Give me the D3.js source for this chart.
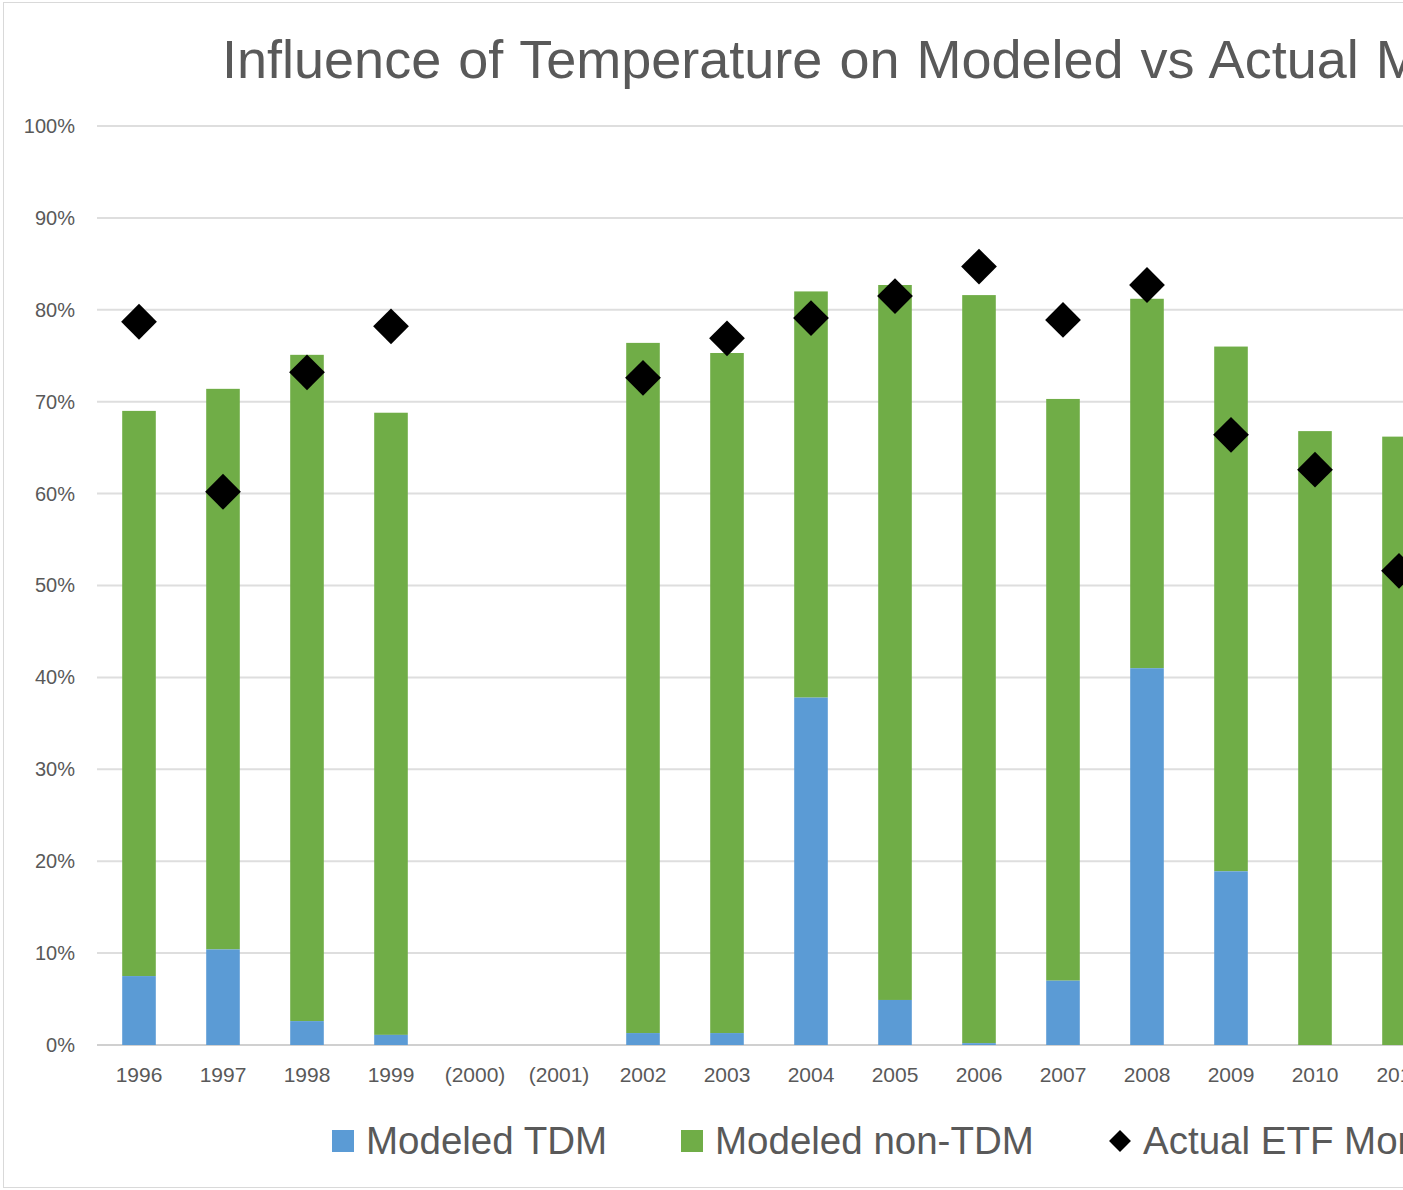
<!DOCTYPE html>
<html>
<head>
<meta charset="utf-8">
<script src="https://cdn.jsdelivr.net/npm/d3@7"></script>
<style>
  body { margin: 0; background: #fff; overflow: hidden; }
  svg { display: block; font-family: "Liberation Sans", "Open Sans", sans-serif; }
</style>
</head>
<body>
<div id="chart"></div>
<script>
// chart values (percent)
const years = ["1996", "1997", "1998", "1999", "(2000)", "(2001)", "2002", "2003",
  "2004", "2005", "2006", "2007", "2008", "2009", "2010", "2011"];
const modeledTDM = [7.5, 10.4, 2.6, 1.1, null, null, 1.3, 1.3, 37.8, 4.9, 0.2, 7.0, 41.0, 18.9, 0, 0];
const modeledNonTDM = [61.5, 61.0, 72.5, 67.7, null, null, 75.1, 74.0, 44.2, 77.8, 81.4, 63.3, 40.2, 57.1, 66.8, 66.2];
const actualETF = [78.7, 60.2, 73.2, 78.2, null, null, 72.6, 76.9, 79.1, 81.5, 84.7, 78.9, 82.7, 66.4, 62.6, 51.6];
const yTicks = [0, 10, 20, 30, 40, 50, 60, 70, 80, 90, 100];

const width = 1403, height = 1190;
const svg = d3.select("#chart").append("svg")
  .attr("width", width)
  .attr("height", height);

// frame of the chart area
svg.append("rect")
  .attr("x", 3.5).attr("y", 2.5)
  .attr("width", width + 10).attr("height", 1185)
  .attr("fill", "none").attr("stroke", "#d9d9d9");

const x = d3.scaleBand().domain(years).range([97, 97 + 84 * years.length]).paddingInner(0.6).paddingOuter(0.3);
const y = d3.scaleLinear().domain([0, 100]).range([1045, 126]);

// gridlines
svg.append("g")
  .selectAll("line")
  .data(yTicks)
  .enter()
  .append("line")
  .attr("x1", 97).attr("x2", width)
  .attr("y1", d => y(d)).attr("y2", d => y(d))
  .attr("stroke", (d) => d === 0 ? "#d0d0d0" : "#dedede")
  .attr("stroke-width", 2);

// y axis labels
const yAxis = d3.axisLeft(y).tickValues(yTicks).tickFormat(d => d + "%").tickSize(0).tickPadding(22);
const gy = svg.append("g").attr("transform", "translate(97,0)").call(yAxis);
gy.select(".domain").remove();
gy.selectAll("text").attr("font-size", 20).attr("fill", "#595959").attr("font-family", "Liberation Sans, sans-serif");

// x axis labels
const xAxis = d3.axisBottom(x).tickSize(0).tickPadding(22);
const gx = svg.append("g").attr("transform", "translate(0,1045)").call(xAxis);
gx.select(".domain").remove();
gx.selectAll("text").attr("font-size", 21).attr("fill", "#595959").attr("font-family", "Liberation Sans, sans-serif");

// stacked bars
const rows = years.map((yr, i) => ({ year: yr, tdm: modeledTDM[i], non: modeledNonTDM[i], etf: actualETF[i] }))
  .filter(d => d.tdm !== null);

svg.append("g").selectAll("rect")
  .data(rows).enter().append("rect")
  .attr("x", d => x(d.year))
  .attr("width", x.bandwidth())
  .attr("y", d => y(d.tdm + d.non))
  .attr("height", d => y(d.tdm) - y(d.tdm + d.non))
  .attr("fill", "#70ad47");

svg.append("g").selectAll("rect")
  .data(rows).enter().append("rect")
  .attr("x", d => x(d.year))
  .attr("width", x.bandwidth())
  .attr("y", d => y(d.tdm))
  .attr("height", d => y(0) - y(d.tdm))
  .attr("fill", "#5b9bd5");

// diamonds for actual values
const diamond = d3.symbol().type(d3.symbolSquare).size(640);
svg.append("g").selectAll("path")
  .data(rows).enter().append("path")
  .attr("d", diamond)
  .attr("transform", d => `translate(${x(d.year) + x.bandwidth() / 2},${y(d.etf)}) rotate(45)`)
  .attr("fill", "#000");

// title
svg.append("text")
  .attr("x", 222).attr("y", 78)
  .attr("font-size", 54)
  .attr("fill", "#595959")
  .attr("word-spacing", 2)
  .text("Influence of Temperature on Modeled vs Actual Monthly ETF");

// legend
const legend = [
  { label: "Modeled TDM", color: "#5b9bd5", x: 332, shape: "rect" },
  { label: "Modeled non-TDM", color: "#70ad47", x: 681, shape: "rect" },
  { label: "Actual ETF Monthly", color: "#000", x: 1109, shape: "diamond" }
];
const lg = svg.append("g").selectAll("g").data(legend).enter().append("g")
  .attr("transform", d => `translate(${d.x},1141)`);
lg.filter(d => d.shape === "rect").append("rect")
  .attr("x", 0).attr("y", -11).attr("width", 22).attr("height", 22)
  .attr("fill", d => d.color);
lg.filter(d => d.shape === "diamond").append("path")
  .attr("d", d3.symbol().type(d3.symbolSquare).size(240))
  .attr("transform", "translate(11,0) rotate(45)")
  .attr("fill", "#000");
lg.append("text")
  .attr("x", 34).attr("y", 13)
  .attr("font-size", 38.5)
  .attr("fill", "#595959")
  .text(d => d.label);
</script>
</body>
</html>
